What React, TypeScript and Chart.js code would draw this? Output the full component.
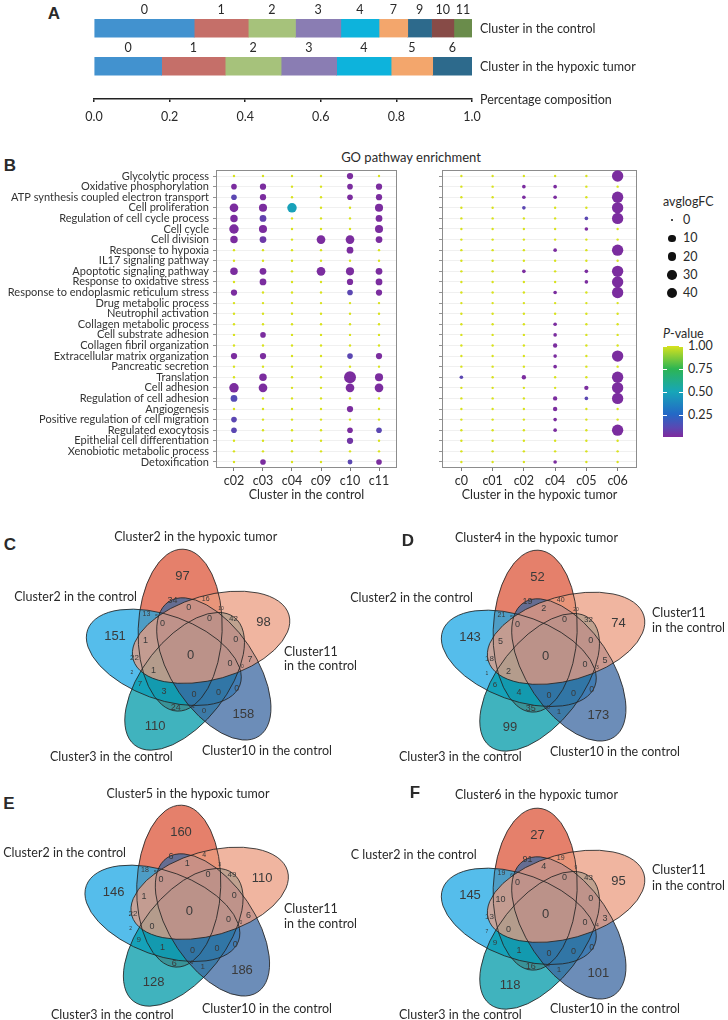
import React, { useEffect, useRef } from 'react';
import { Chart, registerables } from 'chart.js';

Chart.register(...registerables);

const FONT = 'Lato, "Open Sans", "DejaVu Sans", sans-serif';
const NUMFONT = '"Liberation Sans", Arial, sans-serif';
const TEXT = '#2a2a2a';

// ---------------- Panel A: composition ----------------
const controlClusters = ['0', '1', '2', '3', '4', '7', '9', '10', '11'];
const controlShares = [0.265, 0.143, 0.125, 0.12, 0.101, 0.076, 0.063, 0.059, 0.048];
const hypoxicClusters = ['0', '1', '2', '3', '4', '5', '6'];
const hypoxicShares = [0.179, 0.168, 0.148, 0.147, 0.144, 0.11, 0.104];
const compositionRows = ['Cluster in the control', 'Cluster in the hypoxic tumor'];
const compositionTicks = [0, 0.2, 0.4, 0.6, 0.8, 1.0];
const compositionAxisTitle = 'Percentage composition';
const clusterColors: Record<string, string> = {
  '0': '#4292CF', '1': '#C56F69', '2': '#A6C27B', '3': '#8A7DB3', '4': '#0DB3DC',
  '5': '#F3A66C', '7': '#F3A66C', '6': '#2D6A8C', '9': '#2D6A8C', '10': '#874B47', '11': '#6A8C4B',
};

// ---------------- Panel B: GO dot plots ----------------
const pathways = [
  'Glycolytic process', 'Oxidative phosphorylation', 'ATP synthesis coupled electron transport',
  'Cell proliferation', 'Regulation of cell cycle process', 'Cell cycle', 'Cell division',
  'Response to hypoxia', 'IL17 signaling pathway', 'Apoptotic signaling pathway',
  'Response to oxidative stress', 'Response to endoplasmic reticulum stress', 'Drug metabolic process',
  'Neutrophil activation', 'Collagen metabolic process', 'Cell substrate adhesion',
  'Collagen fibril organization', 'Extracellular matrix organization', 'Pancreatic secretion',
  'Translation', 'Cell adhesion', 'Regulation of cell adhesion', 'Angiogenesis',
  'Positive regulation of cell migration', 'Regulated exocytosis', 'Epithelial cell differentiation',
  'Xenobiotic metabolic process', 'Detoxification',
];
const controlCols = ['c02', 'c03', 'c04', 'c09', 'c10', 'c11'];
const hypoxicCols = ['c0', 'c01', 'c02', 'c04', 'c05', 'c06'];
const controlAxisTitle = 'Cluster in the control';
const hypoxicAxisTitle = 'Cluster in the hypoxic tumor';
const dotTitle = 'GO pathway enrichment';

// avglogFC per column (rows follow pathways)
const fcC02 = [0, 3, 3, 20, 11, 28, 11, 0, 0, 11, 0, 5, 0, 0, 0, 0, 0, 5, 0, 0, 28, 7, 0, 3, 3, 0, 0, 0];
const fcC03 = [0, 5, 5, 15, 7, 15, 7, 0, 0, 7, 7, 0, 0, 0, 0, 3, 0, 5, 0, 11, 20, 0, 0, 0, 0, 0, 0, 3];
const fcC04 = [0, 0, 0, 28, 0, 0, 0, 0, 0, 0, 0, 0, 0, 0, 0, 0, 0, 0, 0, 0, 0, 0, 0, 0, 0, 0, 0, 0];
const fcC09 = [0, 0, 0, 0, 0, 0, 20, 0, 0, 20, 0, 0, 0, 0, 0, 0, 0, 0, 0, 0, 0, 0, 0, 0, 0, 0, 0, 0];
const fcC10 = [5, 3, 3, 0, 0, 0, 20, 7, 0, 15, 5, 3, 0, 0, 0, 0, 0, 3, 0, 66, 20, 0, 5, 0, 3, 5, 0, 1.4];
const fcC11 = [0, 5, 5, 15, 7, 15, 7, 0, 0, 7, 7, 5, 0, 0, 0, 0, 0, 5, 0, 15, 20, 0, 0, 0, 3, 0, 0, 3];
// P-values per column
const pC02 = [1, .01, .1, .01, .01, .01, .01, 1, 1, .01, 1, .01, 1, 1, 1, 1, 1, .01, 1, 1, .01, .12, 1, .1, .1, 1, 1, 1];
const pC03 = [1, .01, .01, .01, .08, .01, .05, 1, 1, .01, .01, 1, 1, 1, 1, .01, 1, .01, 1, .01, .01, 1, 1, 1, 1, 1, 1, .01];
const pC04 = [1, 1, 1, .48, 1, 1, 1, 1, 1, 1, 1, 1, 1, 1, 1, 1, 1, 1, 1, 1, 1, 1, 1, 1, 1, 1, 1, 1];
const pC09 = [1, 1, 1, 1, 1, 1, .01, 1, 1, .01, 1, 1, 1, 1, 1, 1, 1, 1, 1, 1, 1, 1, 1, 1, 1, 1, 1, 1];
const pC10 = [.01, .01, .01, 1, 1, 1, .01, .01, 1, .01, .01, .1, 1, 1, 1, 1, 1, .1, 1, .01, .01, 1, .01, 1, .01, .04, 1, .1];
const pC11 = [1, .01, .01, .01, .01, .01, .01, 1, 1, .01, .01, .01, 1, 1, 1, 1, 1, .01, 1, .01, .01, 1, 1, 1, .1, 1, 1, .01];

const fcH0 = [0, 0, 0, 0, 0, 0, 0, 0, 0, 0, 0, 0, 0, 0, 0, 0, 0, 0, 0, 0.2, 0, 0, 0, 0, 0, 0, 0, 0];
const fcH01 = [0, 0, 0, 0, 0, 0, 0, 0, 0, 0, 0, 0, 0, 0, 0, 0, 0, 0, 0, 0, 0, 0, 0, 0, 0, 0, 0, 0];
const fcH02 = [0, 0.2, 0.2, 0.2, 0, 0, 0, 0, 0, 0.2, 0, 0, 0, 0, 0, 0, 0, 0, 0, 0.7, 0, 0, 0, 0, 0, 0, 0, 0];
const fcH04 = [0, 0.2, 0.2, 0, 0, 0, 0, 0.2, 0, 0, 0, 0.2, 0, 0, 0.2, 0.2, 0.7, 0.2, 0.2, 0, 0, 0.7, 0.7, 0.2, 0.2, 0, 0, 0.2];
const fcH05 = [0, 0, 0, 0, 0.2, 0.2, 0, 0, 0, 0.2, 0.2, 0, 0, 0, 0, 0, 0, 0, 0, 0, 0.7, 0.2, 0, 0, 0, 0, 0, 0];
const fcH06 = [55, 0, 55, 55, 55, 0, 0, 55, 0, 55, 55, 55, 0, 0, 0, 0, 0, 55, 0, 55, 55, 55, 0, 0, 55, 0, 0, 0];
const pH0 = [1, 1, 1, 1, 1, 1, 1, 1, 1, 1, 1, 1, 1, 1, 1, 1, 1, 1, 1, .1, 1, 1, 1, 1, 1, 1, 1, 1];
const pH01 = [1, 1, 1, 1, 1, 1, 1, 1, 1, 1, 1, 1, 1, 1, 1, 1, 1, 1, 1, 1, 1, 1, 1, 1, 1, 1, 1, 1];
const pH02 = [1, .01, .01, .1, 1, 1, 1, 1, 1, .01, 1, 1, 1, 1, 1, 1, 1, 1, 1, .01, 1, 1, 1, 1, 1, 1, 1, 1];
const pH04 = [1, .01, .01, 1, 1, 1, 1, .01, 1, 1, 1, .01, 1, 1, .01, .01, .01, .01, .01, 1, 1, .01, .01, .01, .01, 1, 1, .01];
const pH05 = [1, 1, 1, 1, .1, .01, 1, 1, 1, .01, .01, 1, 1, 1, 1, 1, 1, 1, 1, 1, .01, .1, 1, 1, 1, 1, 1, 1];
const pH06 = [.01, 1, .01, .01, .01, 1, 1, .01, 1, .01, .01, .01, 1, 1, 1, 1, 1, .01, 1, .01, .01, .01, 1, 1, .01, 1, 1, 1];

const controlFC = [fcC02, fcC03, fcC04, fcC09, fcC10, fcC11];
const controlP = [pC02, pC03, pC04, pC09, pC10, pC11];
const hypoxicFC = [fcH0, fcH01, fcH02, fcH04, fcH05, fcH06];
const hypoxicP = [pH0, pH01, pH02, pH04, pH05, pH06];

const sizeBreaks = [0, 10, 20, 30, 40];
const pBreaks = [1.0, 0.75, 0.5, 0.25];

// colour scale (P-value position -> colour)
const pStops: [number, number[]][] = [
  [0, [127, 42, 157]], [0.1, [91, 71, 178]], [0.25, [36, 104, 198]],
  [0.5, [23, 166, 184]], [0.75, [45, 181, 83]], [1, [216, 226, 29]],
];
function colorFor(p: number) {
  for (let i = 1; i < pStops.length; i++) {
    const [p1, c1] = pStops[i];
    const [p0, c0] = pStops[i - 1];
    if (p <= p1) {
      const t = (p - p0) / (p1 - p0);
      const c = c0.map((v, k) => Math.round(v + (c1[k] - v) * t));
      return `rgb(${c[0]},${c[1]},${c[2]})`;
    }
  }
  const c = pStops[pStops.length - 1][1];
  return `rgb(${c[0]},${c[1]},${c[2]})`;
}
function sizeFor(v: number) {
  return 1.2 + 4.0 * Math.pow(Math.max(v, 0) / 40, 0.35);
}

// ---------------- Panels C-F: five-set Venn diagrams ----------------
const vennTopSets = ['Cluster2 in the hypoxic tumor', 'Cluster4 in the hypoxic tumor', 'Cluster5 in the hypoxic tumor', 'Cluster6 in the hypoxic tumor'];
const vennCountsC = [97, 34, 16, 13, 5, 0, 10, 0, 42, 98, 0, 151, 1, 0, 0, 22, 1, 0, 7, 2, 0, 7, 3, 0, 0, 0, 24, 1, 0, 158, 110];
const vennCountsD = [52, 19, 40, 21, 5, 2, 20, 0, 32, 74, 0, 143, 5, 0, 0, 18, 2, 0, 5, 1, 3, 6, 4, 0, 0, 0, 35, 5, 1, 173, 99];
const vennCountsE = [160, 6, 4, 18, 5, 1, 3, 0, 49, 110, 0, 146, 1, 0, 0, 22, 0, 0, 6, 2, 0, 9, 1, 0, 0, 0, 6, 6, 1, 186, 128];
const vennCountsF = [27, 91, 19, 19, 6, 4, 9, 0, 43, 95, 0, 145, 10, 0, 0, 13, 0, 0, 3, 7, 4, 9, 1, 0, 0, 0, 16, 4, 1, 101, 118];

// layout: region label anchor (relative to diagram centre) and font size
const vennRegions: [number, number, number][] = [
  [-8.3, -78.3, 13], [-18.3, -54, 9], [15, -56, 7], [-44.3, -40.7, 7], [-34, -38.3, 5],
  [-2, -47.3, 9], [30.3, -46.3, 5], [18.7, -36.7, 9], [42.7, -36, 8], [72.7, -32.3, 13],
  [-28.3, -31, 9], [-75.7, -18.3, 13], [-45.3, -14.3, 9], [45, -15.7, 9], [0, 0, 13],
  [-56.3, 2.7, 8], [-37.3, 15.7, 9], [39.3, 9, 9], [59.3, 5, 9], [-58.7, 18, 5],
  [51.7, 11.7, 5], [-50.7, 28.3, 8], [-26.7, 36.7, 9], [3.3, 39.3, 9], [27.7, 37.7, 9],
  [46, 33.3, 9], [-15, 52.7, 9], [2.7, 51.7, 5], [13.3, 55.7, 8], [52.7, 59.3, 13], [-35.7, 71.7, 13],
];
// ellipse order: top, right, lower-right, lower-left, left
const vennFills = ['#DC563A', '#EB9C80', '#3B67A0', '#009AA8', '#1CA7E4'];
const vennDrawOrder = [0, 4, 3, 2, 1];
const VENN_MINOR = 42, VENN_MAJOR = 81, VENN_OFFSET = 27, VENN_START = -23, VENN_TILT = 2;

const vennPlugin: any = {
  id: 'vennShapes',
  beforeDatasetsDraw(chart: any) {
    const { ctx, scales } = chart;
    const sx = scales.x, sy = scales.y;
    const ux = sx.getPixelForValue(1) - sx.getPixelForValue(0);
    const ells = vennFills.map((_, i) => {
      const th = ((VENN_START + 72 * i) * Math.PI) / 180;
      const ph = ((VENN_TILT + 72 * i) * Math.PI) / 180;
      return {
        x: sx.getPixelForValue(VENN_OFFSET * Math.sin(th)),
        y: sy.getPixelForValue(-VENN_OFFSET * Math.cos(th)),
        rot: ph,
      };
    });
    ctx.save();
    ctx.globalAlpha = 0.75;
    vennDrawOrder.forEach((i) => {
      const e = ells[i];
      ctx.beginPath();
      ctx.ellipse(e.x, e.y, VENN_MINOR * ux, VENN_MAJOR * ux, e.rot, 0, Math.PI * 2);
      ctx.fillStyle = vennFills[i];
      ctx.fill();
    });
    ctx.globalAlpha = 1;
    ctx.strokeStyle = 'rgba(35,35,35,0.85)';
    ctx.lineWidth = 1;
    ells.forEach((e) => {
      ctx.beginPath();
      ctx.ellipse(e.x, e.y, VENN_MINOR * ux, VENN_MAJOR * ux, e.rot, 0, Math.PI * 2);
      ctx.stroke();
    });
    ctx.restore();
  },
  afterDatasetsDraw(chart: any) {
    const { ctx } = chart;
    const meta = chart.getDatasetMeta(0);
    const ds = chart.data.datasets[0];
    ctx.save();
    ctx.fillStyle = '#3a3a3a';
    ctx.textAlign = 'center';
    ctx.textBaseline = 'middle';
    meta.data.forEach((el: any, i: number) => {
      const d = ds.data[i];
      ctx.font = `${d.fs}px ${NUMFONT}`;
      ctx.fillText(String(d.v), el.x, el.y);
    });
    ctx.restore();
  },
};

function vennConfig(counts: number[], cx: number, cy: number, w: number, h: number): any {
  return {
    type: 'scatter',
    data: {
      datasets: [{
        data: vennRegions.map((r, i) => ({ x: r[0], y: r[1], v: counts[i], fs: r[2] })),
        pointRadius: 0, pointHoverRadius: 0, borderWidth: 0,
      }],
    },
    options: {
      animation: false, responsive: false, events: [],
      layout: { padding: 0, autoPadding: false },
      plugins: { legend: { display: false }, tooltip: { enabled: false } },
      scales: {
        x: { type: 'linear', min: -cx, max: w - cx, display: false },
        y: { type: 'linear', min: -cy, max: h - cy, reverse: true, display: false },
      },
    },
    plugins: [vennPlugin],
  };
}

// ---------------- chart configs ----------------
const compositionPlugin: any = {
  id: 'compLabels',
  afterDatasetsDraw(chart: any) {
    const { ctx, chartArea } = chart;
    ctx.save();
    ctx.font = `12.5px ${FONT}`;
    ctx.fillStyle = TEXT;
    ctx.textAlign = 'center';
    ctx.textBaseline = 'middle';
    chart.data.datasets.forEach((ds: any, k: number) => {
      const meta = chart.getDatasetMeta(k);
      meta.data.forEach((el: any, i: number) => {
        const p = el.getProps(['x', 'y', 'base', 'height'], true);
        ctx.fillText(ds.names[i], (p.x + p.base) / 2, p.y - p.height / 2 - 9);
      });
    });
    ctx.textAlign = 'left';
    const ys = chart.scales.y;
    compositionRows.forEach((t, i) => ctx.fillText(t, chartArea.right + 8, ys.getPixelForValue(i) + 1));
    ctx.fillText(compositionAxisTitle, chartArea.right + 8, chartArea.bottom + 1);
    ctx.restore();
  },
};

function compositionConfig(): any {
  const n = Math.max(controlShares.length, hypoxicShares.length);
  const datasets: any[] = [];
  for (let k = 0; k < n; k++) {
    const data: any[] = [];
    const colors: string[] = [];
    const names: string[] = [];
    if (k < controlShares.length) {
      data.push({ x: controlShares[k], y: 0 });
      colors.push(clusterColors[controlClusters[k]]);
      names.push(controlClusters[k]);
    }
    if (k < hypoxicShares.length) {
      data.push({ x: hypoxicShares[k], y: 1 });
      colors.push(clusterColors[hypoxicClusters[k]]);
      names.push(hypoxicClusters[k]);
    }
    datasets.push({ data, backgroundColor: colors, names, barThickness: 17.7, borderWidth: 0 });
  }
  return {
    type: 'bar',
    data: { datasets },
    options: {
      animation: false, responsive: false, events: [], indexAxis: 'y',
      layout: { padding: { left: 94, right: 256, top: 0, bottom: 0 } },
      plugins: { legend: { display: false }, tooltip: { enabled: false } },
      scales: {
        x: {
          type: 'linear', stacked: true, min: 0, max: 1, position: 'bottom',
          afterBuildTicks: (s: any) => { s.ticks = compositionTicks.map((v) => ({ value: v })); },
          afterFit: (s: any) => { s.height = 33; },
          grid: { drawOnChartArea: false, drawTicks: true, tickLength: 3, color: '#222', lineWidth: 1.5 },
          border: { display: true, color: '#222', width: 1.5 },
          ticks: {
            callback: (_v: any, i: number) => compositionTicks[i].toFixed(1),
            font: { family: FONT, size: 12.5 }, color: TEXT, padding: 7, maxRotation: 0, autoSkip: false,
          },
        },
        y: { type: 'linear', stacked: true, reverse: true, min: -0.481, max: 1.599, display: false },
      },
    },
    plugins: [compositionPlugin],
  };
}

const boxPlugin: any = {
  id: 'panelBox',
  beforeDatasetsDraw(chart: any) {
    const { ctx, chartArea: a } = chart;
    ctx.save();
    ctx.strokeStyle = '#8c8c8c';
    ctx.lineWidth = 1;
    ctx.strokeRect(a.left + 0.5, a.top + 0.5, a.right - a.left - 1, a.bottom - a.top - 1);
    ctx.restore();
  },
};

function dotConfig(cols: string[], fc: number[][], pv: number[][], showY: boolean, axisTitle: string, yWidth: number): any {
  const pts: any[] = [];
  cols.forEach((_c, ci) => pathways.forEach((_r, ri) => {
    pts.push({ x: ci, y: ri, r: sizeFor(fc[ci][ri]), p: pv[ci][ri] });
  }));
  pts.sort((a, b) => b.p - a.p);
  return {
    type: 'bubble',
    data: {
      datasets: [{
        data: pts,
        backgroundColor: (c: any) => colorFor(c.raw ? c.raw.p : 1),
        borderWidth: 0, hoverRadius: 0,
      }],
    },
    options: {
      animation: false, responsive: false, events: [],
      layout: { padding: { top: 20, right: 13, left: 0, bottom: 0 } },
      plugins: { legend: { display: false }, tooltip: { enabled: false } },
      scales: {
        x: {
          type: 'linear', min: -0.62, max: cols.length - 1 + 0.62,
          afterBuildTicks: (s: any) => { s.ticks = cols.map((_c, i) => ({ value: i })); },
          afterFit: (s: any) => { s.height = 34; },
          ticks: {
            callback: (_v: any, i: number) => cols[i],
            font: { family: FONT, size: 12.5 }, color: TEXT, padding: 2, autoSkip: false, maxRotation: 0,
          },
          grid: { drawOnChartArea: false, drawTicks: true, tickLength: 3, tickColor: '#777' },
          border: { display: false },
          title: { display: true, text: axisTitle, font: { family: FONT, size: 12.5 }, color: TEXT, padding: 0 },
        },
        y: {
          type: 'linear', reverse: true, min: -0.57, max: pathways.length - 1 + 0.57,
          afterBuildTicks: (s: any) => { s.ticks = pathways.map((_r, i) => ({ value: i })); },
          afterFit: (s: any) => { s.width = yWidth; },
          ticks: {
            callback: (_v: any, i: number) => (showY ? pathways[i] : ''),
            font: { family: FONT, size: 11 }, color: '#333', padding: 4, autoSkip: false,
          },
          grid: { color: '#ececec', lineWidth: 0.8, drawTicks: true, tickLength: 3, tickColor: '#777' },
          border: { display: false },
        },
      },
    },
    plugins: [boxPlugin],
  };
}

// ---------------- components ----------------
function ChartCanvas({ left, top, width, height, make }: any) {
  const ref = useRef<HTMLCanvasElement>(null);
  useEffect(() => {
    const chart = new Chart(ref.current as HTMLCanvasElement, make());
    return () => chart.destroy();
  }, []);
  return (
    <canvas ref={ref} width={width} height={height}
      style={{ position: 'absolute', left, top, width, height }} />
  );
}

function T({ x, y, children, size = 12.5, align = 'left', bold = false, family = FONT, color = TEXT }: any) {
  const tx = align === 'center' ? '-50%' : align === 'right' ? '-100%' : '0';
  return (
    <div style={{
      position: 'absolute', left: x, top: y, transform: `translate(${tx}, -50%)`,
      fontSize: size, lineHeight: 1.15, fontFamily: family, fontWeight: bold ? 700 : 400,
      color, whiteSpace: 'nowrap',
    }}>{children}</div>
  );
}

const LETTER = '"Liberation Sans", Arial, sans-serif';

function VennLabels({ cx, top, top2, left, leftAlign, right, rightY, lr, ll }: any) {
  return null;
}

export default function App() {
  return (
    <div style={{ position: 'absolute', left: 0, top: 0, width: 728, height: 1020, background: '#fff', overflow: 'hidden' }}>
      {/* Panel A */}
      <T x={54} y={14} size={17} bold family={LETTER} align="center">A</T>
      <ChartCanvas left={0} top={0} width={728} height={132} make={compositionConfig} />

      {/* Panel B */}
      <T x={10} y={166} size={17} bold family={LETTER} align="center">B</T>
      <T x={411} y={157} size={13} align="center">{dotTitle}</T>
      <ChartCanvas left={0} top={150} width={410} height={352}
        make={() => dotConfig(controlCols, controlFC, controlP, true, controlAxisTitle, 216)} />
      <ChartCanvas left={415} top={150} width={235} height={352}
        make={() => dotConfig(hypoxicCols, hypoxicFC, hypoxicP, false, hypoxicAxisTitle, 27)} />

      {/* size legend */}
      <T x={663} y={202}>avglogFC</T>
      {sizeBreaks.map((b, i) => {
        const r = sizeFor(b);
        const cy = 220 + i * 18.3;
        return (
          <React.Fragment key={b}>
            <div style={{ position: 'absolute', left: 672 - r, top: cy - r, width: 2 * r, height: 2 * r, borderRadius: '50%', background: '#111' }} />
            <T x={683} y={cy}>{b}</T>
          </React.Fragment>
        );
      })}
      {/* colour legend */}
      <T x={663} y={334}><i>P</i>-value</T>
      <div style={{
        position: 'absolute', left: 663, top: 346, width: 20, height: 91,
        background: 'linear-gradient(to bottom, #D8E21D 0%, #2DB553 25%, #17A6B8 50%, #2468C6 75%, #5B47B2 90%, #7F2A9D 100%)',
      }} />
      {pBreaks.map((b, i) => {
        const y = 346 + i * 23;
        return (
          <React.Fragment key={b}>
            <div style={{ position: 'absolute', left: 663, top: y, width: 4, height: 1, background: '#fff' }} />
            <div style={{ position: 'absolute', left: 679, top: y, width: 4, height: 1, background: '#fff' }} />
            <T x={688} y={y}>{b.toFixed(2)}</T>
          </React.Fragment>
        );
      })}

      {/* Panel C */}
      <T x={10} y={545} size={17} bold family={LETTER} align="center">C</T>
      <ChartCanvas left={0} top={500} width={364} height={260} make={() => vennConfig(vennCountsC, 190.7, 155, 364, 260)} />
      <T x={195.7} y={537} align="center">{vennTopSets[0]}</T>
      <T x={137} y={597} align="right">Cluster2 in the control</T>
      <T x={284} y={652}>Cluster11</T>
      <T x={284} y={666}>in the control</T>
      <T x={202} y={751}>Cluster10 in the control</T>
      <T x={50} y={757}>Cluster3 in the control</T>

      {/* Panel D */}
      <T x={408} y={541} size={17} bold family={LETTER} align="center">D</T>
      <ChartCanvas left={364} top={500} width={364} height={260} make={() => vennConfig(vennCountsD, 181.7, 156, 364, 260)} />
      <T x={536.5} y={538} align="center">{vennTopSets[1]}</T>
      <T x={473} y={598} align="right">Cluster2 in the control</T>
      <T x={652} y={613}>Cluster11</T>
      <T x={652} y={628}>in the control</T>
      <T x={550} y={752}>Cluster10 in the control</T>
      <T x={399} y={757}>Cluster3 in the control</T>

      {/* Panel E */}
      <T x={9} y={804} size={17} bold family={LETTER} align="center">E</T>
      <ChartCanvas left={0} top={760} width={364} height={260} make={() => vennConfig(vennCountsE, 189.3, 151, 364, 260)} />
      <T x={188} y={794} align="center">{vennTopSets[2]}</T>
      <T x={126} y={853} align="right">Cluster2 in the control</T>
      <T x={284} y={909}>Cluster11</T>
      <T x={284} y={924}>in the control</T>
      <T x={202} y={1009}>Cluster10 in the control</T>
      <T x={51} y={1015}>Cluster3 in the control</T>

      {/* Panel F */}
      <T x={415} y={793} size={17} bold family={LETTER} align="center">F</T>
      <ChartCanvas left={364} top={760} width={364} height={260} make={() => vennConfig(vennCountsF, 181.7, 154, 364, 260)} />
      <T x={536.5} y={795} align="center">{vennTopSets[3]}</T>
      <T x={476.7} y={855} align="right">C luster2 in the control</T>
      <T x={652} y={870}>Cluster11</T>
      <T x={652} y={886}>in the control</T>
      <T x={550} y={1009}>Cluster10 in the control</T>
      <T x={399} y={1015}>Cluster3 in the control</T>
    </div>
  );
}
